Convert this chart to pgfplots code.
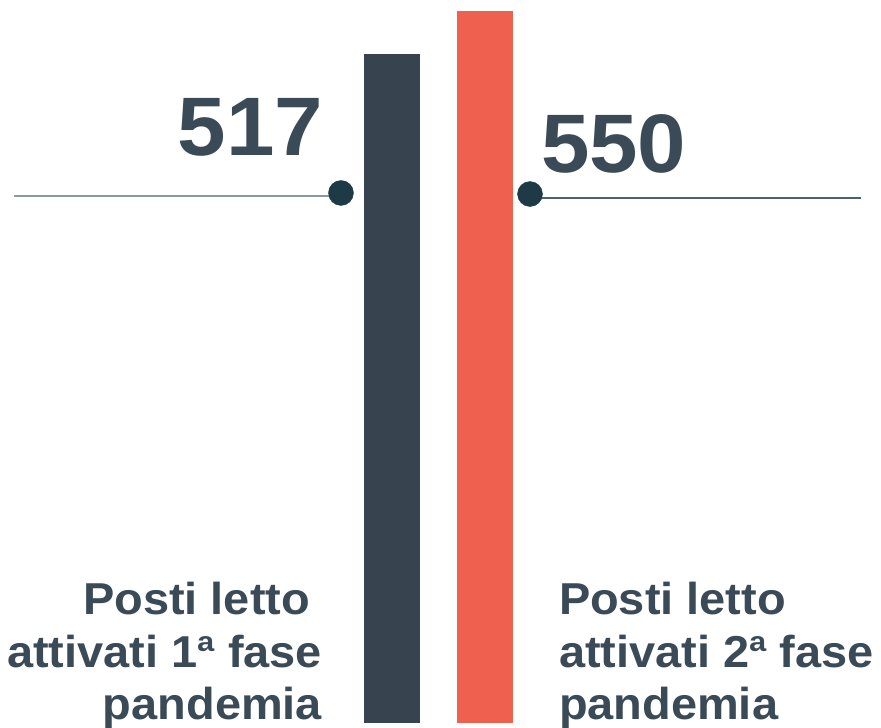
\documentclass[border=0pt]{standalone}
\usepackage{pgfplots}
\pgfplotsset{compat=1.18}
\usepackage{fontspec}
\setmainfont{Liberation Sans}[FakeStretch=1.05]
\definecolor{darkbar}{HTML}{37444F}
\definecolor{redbar}{HTML}{EF604E}
\definecolor{txt}{HTML}{3A4A57}
\definecolor{dotc}{HTML}{1F3A47}
\definecolor{lineL}{HTML}{8A9AA3}
\definecolor{lineR}{HTML}{4D6170}
\begin{document}
\begin{tikzpicture}
\useasboundingbox (0,0) rectangle (881bp,728bp);
\begin{axis}[
  at={(0,0)}, anchor=south west,
  x=1bp, y=1.294bp,
  xmin=0, xmax=881, ymin=-3.864, ymax=558.7,
  hide axis, clip=false,
]
\addplot[ybar, bar width=56bp, bar shift=0pt, fill=darkbar, draw=none] coordinates {(392,517)};
\addplot[ybar, bar width=56bp, bar shift=0pt, fill=redbar, draw=none] coordinates {(485,550)};
\addplot[lineL, line width=1.2bp] coordinates {(14,407.3) (341,407.3)};
\addplot[lineR, line width=1.2bp] coordinates {(530,405.7) (861,405.7)};
\addplot[only marks, mark=*, mark size=12.5bp, mark options={fill=dotc, draw=dotc}] coordinates {(341,409.6)};
\addplot[only marks, mark=*, mark size=12.5bp, mark options={fill=dotc, draw=dotc}] coordinates {(530,408.8)};
\end{axis}
\begin{scope}[every node/.style={inner sep=0pt, outer sep=0pt, text=txt}]
\node[anchor=base east, font=\fontsize{83bp}{90bp}\selectfont\bfseries] at (323bp,572bp) {517};
\node[anchor=base west, font=\fontsize{83bp}{90bp}\selectfont\bfseries] at (541bp,555bp) {550};
\node[anchor=base east, font=\fontsize{44.7bp}{50bp}\selectfont\bfseries] at (310bp,113bp) {Posti letto};
\node[anchor=base east, font=\fontsize{44.7bp}{50bp}\selectfont\bfseries] at (322bp,60bp) {attivati 1ª fase};
\node[anchor=base east, font=\fontsize{44.7bp}{50bp}\selectfont\bfseries] at (322bp,9bp) {pandemia};
\node[anchor=base west, font=\fontsize{44.7bp}{50bp}\selectfont\bfseries] at (559bp,113bp) {Posti letto};
\node[anchor=base west, font=\fontsize{44.7bp}{50bp}\selectfont\bfseries] at (559bp,60bp) {attivati 2ª fase};
\node[anchor=base west, font=\fontsize{44.7bp}{50bp}\selectfont\bfseries] at (559bp,9bp) {pandemia};
\end{scope}
\end{tikzpicture}
\end{document}
